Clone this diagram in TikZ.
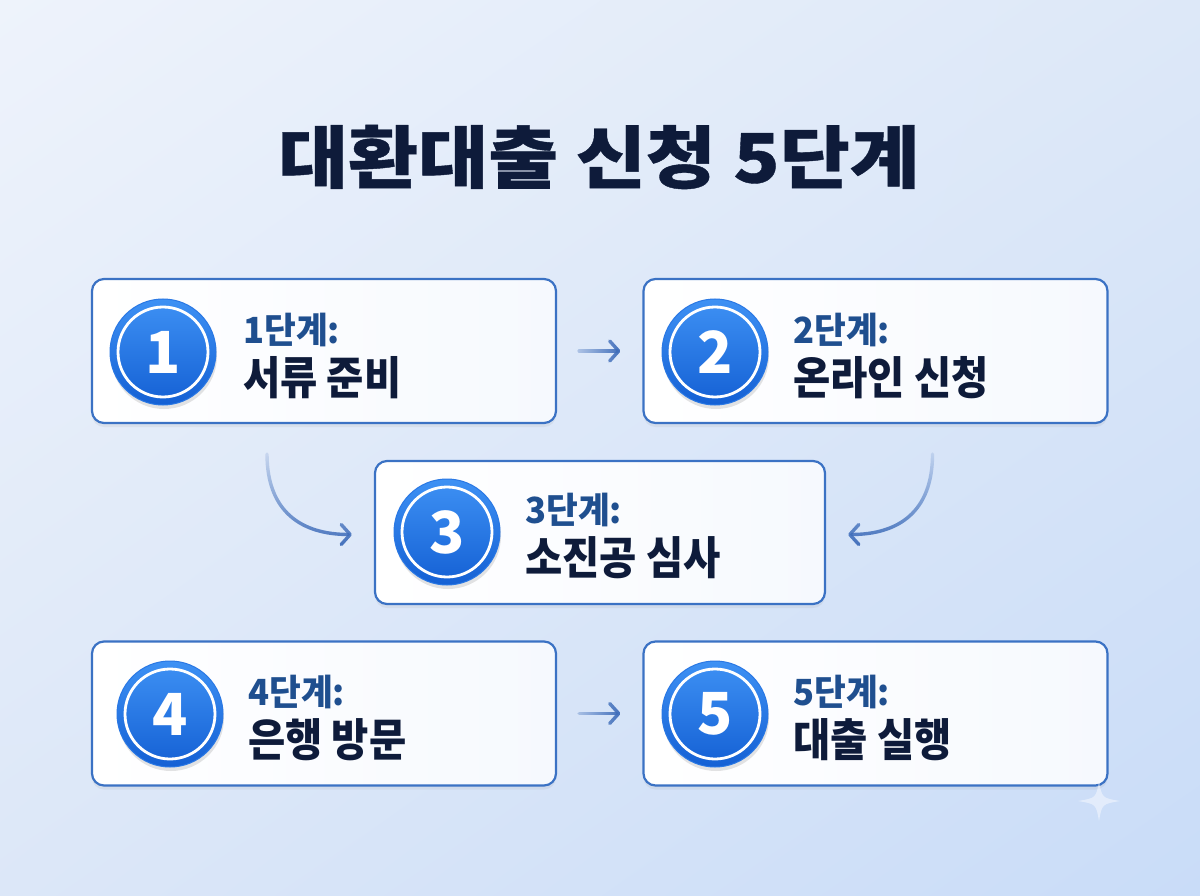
\documentclass[tikz,border=0pt]{standalone}
\usepackage{fontspec}
\setmainfont{Noto Sans CJK KR}
\newfontfamily\krtitle{Noto Sans CJK KR}[FakeStretch=1.12, FakeBold=0.6]
\newfontfamily\krbody{Noto Sans CJK KR}[FakeStretch=0.9]
\newfontfamily\krlab{Noto Sans CJK KR}[FakeStretch=0.96]
\usetikzlibrary{arrows.meta,shadows,fadings,shadings,calc}
\definecolor{bgA}{HTML}{EEF3FB}
\definecolor{bgB}{HTML}{DDE8F8}
\definecolor{bgC}{HTML}{DCE7F8}
\definecolor{bgD}{HTML}{C9DCF8}
\definecolor{boxblue}{HTML}{3B72C4}
\definecolor{boxR}{HTML}{F6F9FE}
\definecolor{circT}{HTML}{3E91F4}
\definecolor{circB}{HTML}{1460D4}
\definecolor{circE}{HTML}{2A78E4}
\definecolor{labcol}{HTML}{1F4F8F}
\definecolor{maincol}{HTML}{0E1B3A}
\definecolor{arrcol}{HTML}{3F6DBA}
\tikzfading[name=fadeW, left color=transparent!70, right color=transparent!0]
\tikzfading[name=fadeN, top color=transparent!85, bottom color=transparent!0]
\begin{document}
\begin{tikzpicture}[x=1pt,y=-1pt,
  stepbox/.style={draw=boxblue, line width=2.2pt, rounded corners=12pt,
    left color=white, right color=boxR, minimum width=464pt, minimum height=144pt,
    inner sep=0pt, drop shadow={opacity=0.10, shadow xshift=0pt, shadow yshift=-4pt}},
  badge/.style={circle, minimum size=106pt, inner sep=0pt, top color=circT, bottom color=circB,
    draw=circE, line width=1pt, text=white,
    drop shadow={opacity=0.22, shadow xshift=1pt, shadow yshift=-4pt},
    font=\bfseries\fontsize{58}{58}\selectfont},
  ring/.style={draw=white, line width=2.8pt},
  labtxt/.style={anchor=base west, inner sep=0pt, text=labcol, font=\krlab\bfseries\fontsize{36}{36}\selectfont},
  maintxt/.style={anchor=base west, inner sep=0pt, text=maincol, font=\krbody\bfseries\fontsize{45}{45}\selectfont},
  flow/.style={draw=arrcol, line width=3.4pt, line cap=round, -{Straight Barb[length=9pt, width=20pt, line width=3.4pt, round]}}
]
\useasboundingbox (0,0) rectangle (1200,896);
\shade[upper left=bgA, upper right=bgB, lower left=bgC, lower right=bgD] (0,0) rectangle (1200,896);

% title
\node[inner sep=0pt, text=maincol, font=\krtitle\bfseries\fontsize{68}{68}\selectfont] (title) at (599,157) {대환대출 신청 5단계};

% boxes
\node[stepbox] (b1) at (324,351) {};
\node[stepbox] (b2) at (875.5,351) {};
\node[stepbox, minimum width=450pt, minimum height=143pt] (b3) at (600,532.5) {};
\node[stepbox] (b4) at (324,713.5) {};
\node[stepbox] (b5) at (875.5,713.5) {};

% badges
\node[badge] (c1) at (163,352) {1};
\node[badge] (c2) at (715,352) {2};
\node[badge] (c3) at (447,532) {3};
\node[badge] (c4) at (170,714) {4};
\node[badge] (c5) at (715,714) {5};
\foreach \c in {c1,c2,c3,c4,c5} { \draw[ring] (\c) circle[radius=45pt]; }

% texts
\node[labtxt] (l1) at ($(c1)+(80,-9)$) {1단계:};
\node[maintxt] (m1) at ($(c1)+(80,42)$) {서류 준비};
\node[labtxt] (l2) at ($(c2)+(78,-9)$) {2단계:};
\node[maintxt] (m2) at ($(c2)+(78,42)$) {온라인 신청};
\node[labtxt] (l3) at ($(c3)+(78,-9)$) {3단계:};
\node[maintxt] (m3) at ($(c3)+(78,42)$) {소진공 심사};
\node[labtxt] (l4) at ($(c4)+(78,-9)$) {4단계:};
\node[maintxt] (m4) at ($(c4)+(78,42)$) {은행 방문};
\node[labtxt] (l5) at ($(c5)+(78,-9)$) {5단계:};
\node[maintxt] (m5) at ($(c5)+(78,42)$) {대출 실행};

% connectors
\coordinate (a1) at ($(b1.east)+(22,0)$);
\coordinate (a2) at ($(b2.west)+(-22,0)$);
\coordinate (a4) at ($(b4.east)+(22,0)$);
\coordinate (a5) at ($(b5.west)+(-22,0)$);
\draw[flow, path fading=fadeW] ($(a1)+(0,-16)$) ($(a1)+(0,16)$) (a1) -- (a2);
\draw[flow, path fading=fadeW] ($(a4)+(0,-16)$) ($(a4)+(0,16)$) (a4) -- (a5);
\coordinate (s1) at ($(b1.south)+(-57,30)$);
\coordinate (e1) at ($(b3.west)+(-22,2)$);
\coordinate (s2) at ($(b2.south)+(57,30)$);
\coordinate (e2) at ($(b3.east)+(22,2)$);
\draw[flow, path fading=fadeN] ($(e1)+(4,14)$) (s1) .. controls +(0,58) and +(-50,0) .. (e1);
\draw[flow, path fading=fadeN] ($(e2)+(-4,14)$) (s2) .. controls +(0,58) and +(50,0) .. (e2);

% sparkle
\coordinate (sp) at (1099,801);
\fill[white, opacity=0.45] ($(sp)+(0,-20)$) .. controls ($(sp)+(3,-3)$) .. ($(sp)+(21,0)$)
  .. controls ($(sp)+(3,3)$) .. ($(sp)+(0,20)$)
  .. controls ($(sp)+(-3,3)$) .. ($(sp)+(-21,0)$)
  .. controls ($(sp)+(-3,-3)$) .. cycle;
\end{tikzpicture}
\end{document}
